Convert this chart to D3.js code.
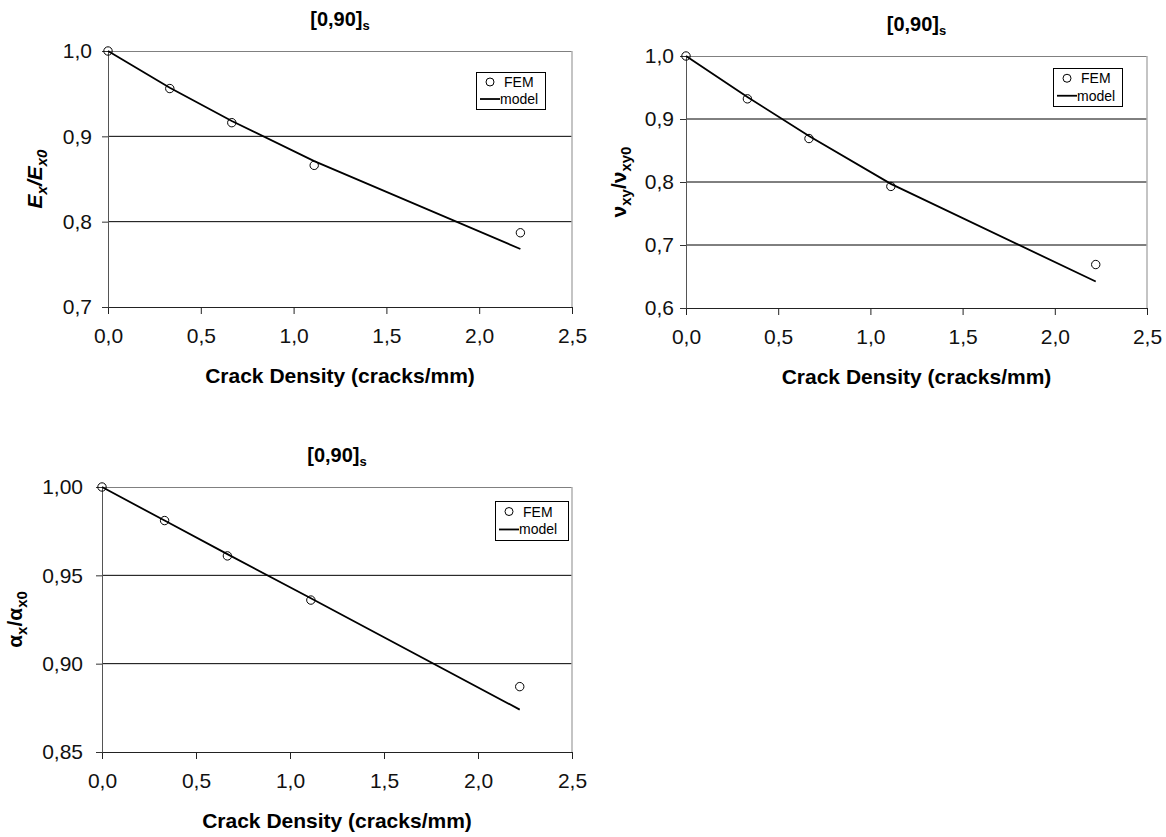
<!DOCTYPE html>
<html>
<head>
<meta charset="utf-8">
<script src="https://d3js.org/d3.v7.min.js"></script>
<style>
  body { margin: 0; background: #fff; }
  svg { font-family: "Liberation Sans", Arial, sans-serif; }
</style>
</head>
<body>
<script>
  // data
  var crackDensity = [0, 0.333, 0.667, 1.111, 2.222]
  var xTicks = [0, 0.5, 1.0, 1.5, 2.0, 2.5]

  var exFem = [1.0, 0.956, 0.916, 0.866, 0.787]
  var exModel = [1.0, 0.957, 0.918, 0.871, 0.768]
  var exTicks = [0.7, 0.8, 0.9, 1.0]

  var nuFem = [1.0, 0.932, 0.869, 0.793, 0.669]
  var nuModel = [1.0, 0.935, 0.873, 0.797, 0.642]
  var nuTicks = [0.6, 0.7, 0.8, 0.9, 1.0]

  var alphaFem = [1.0, 0.981, 0.961, 0.936, 0.887]
  var alphaModel = [1.0, 0.981, 0.962, 0.937, 0.874]
  var alphaTicks = [0.85, 0.90, 0.95, 1.00]

  var svg = d3.select("body").append("svg")
              .attr("width", 1166)
              .attr("height", 837)

  var comma = function(fmt) {
    var f = d3.format(fmt)
    return function(v) { return f(v).replace(".", ",") }
  }

  var panels = [
    { left: 108, top: 51, w: 464, h: 256, fem: exFem, model: exModel, ticks: exTicks,
      fmt: comma(".1f"), label: ["E", "x", "/E", "x0"], italic: true, labelX: 42,
      legend: [476, 72, 69, 37], tickGap: 16 },
    { left: 686, top: 56, w: 461, h: 252, fem: nuFem, model: nuModel, ticks: nuTicks,
      fmt: comma(".1f"), label: ["\u03bd", "xy", "/\u03bd", "xy0"], italic: false, labelX: 626,
      legend: [1053, 68, 69, 38], tickGap: 12 },
    { left: 102, top: 487, w: 470, h: 265, fem: alphaFem, model: alphaModel, ticks: alphaTicks,
      fmt: comma(".2f"), label: ["\u03b1", "x", "/\u03b1", "x0"], italic: false, labelX: 22,
      legend: [495, 501, 73, 39], tickGap: 19 }
  ]

  panels.forEach(function(p) {
    var g = svg.append("g").attr("transform", "translate(" + p.left + "," + p.top + ")")

    var x = d3.scaleLinear().domain([0, 2.5]).range([0, p.w])
    var y = d3.scaleLinear().domain([p.ticks[0], p.ticks[p.ticks.length - 1]]).range([p.h, 0])

    // gridlines
    g.selectAll(".grid")
     .data(p.ticks.slice(1, -1))
     .enter().append("line")
     .attr("x1", 0).attr("x2", p.w)
     .attr("y1", function(d) { return y(d) }).attr("y2", function(d) { return y(d) })
     .attr("stroke", "#000").attr("stroke-width", 1)

    // frame top and right
    g.append("line").attr("x1", 0).attr("x2", p.w).attr("y1", 0.5).attr("y2", 0.5)
     .attr("stroke", "#808080")
    g.append("line").attr("x1", p.w).attr("x2", p.w).attr("y1", 0).attr("y2", p.h)
     .attr("stroke", "#b0b0b0").attr("stroke-width", 1.5)

    // axes
    var xAxis = g.append("g").attr("transform", "translate(0," + p.h + ")")
                 .call(d3.axisBottom(x).tickValues(xTicks).tickFormat(comma(".1f"))
                         .tickSize(7).tickSizeOuter(0).tickPadding(14))
    xAxis.select(".domain").attr("stroke", "#222")
    xAxis.selectAll("line").attr("stroke", "#222")
    xAxis.selectAll("text").attr("font-size", 21).attr("fill", "#111")

    var yAxis = g.append("g")
                 .call(d3.axisLeft(y).tickValues(p.ticks).tickFormat(p.fmt)
                         .tickSize(6).tickSizeOuter(0).tickPadding(p.tickGap - 6))
    yAxis.select(".domain").attr("stroke", "#555")
    yAxis.selectAll("line").attr("stroke", "#333")
    yAxis.selectAll("text").attr("font-size", 21).attr("fill", "#111")

    // model line
    var line = d3.line()
                 .x(function(d, i) { return x(crackDensity[i]) })
                 .y(function(d) { return y(d) })
    g.append("path").datum(p.model)
     .attr("d", line).attr("fill", "none")
     .attr("stroke", "#000").attr("stroke-width", 1.8)

    // FEM points
    g.selectAll(".fem").data(p.fem).enter().append("circle")
     .attr("cx", function(d, i) { return x(crackDensity[i]) })
     .attr("cy", function(d) { return y(d) })
     .attr("r", 4.2).attr("fill", "none").attr("stroke", "#000").attr("stroke-width", 1)

    // title
    var t = svg.append("text")
               .attr("x", p.left + p.w / 2).attr("y", p.top - 25)
               .attr("text-anchor", "middle").attr("font-weight", "bold").attr("font-size", 20)
    t.append("tspan").text("[0,90]")
    t.append("tspan").attr("dy", 4).attr("font-size", 13).text("s")

    // x title
    svg.append("text")
       .attr("x", p.left + p.w / 2).attr("y", p.top + p.h + 76)
       .attr("text-anchor", "middle").attr("font-weight", "bold").attr("font-size", 21)
       .text("Crack Density (cracks/mm)")

    // y title
    var yl = svg.append("text")
                .attr("transform", "translate(" + p.labelX + "," + (p.top + p.h / 2) + ") rotate(-90)")
                .attr("text-anchor", "middle").attr("font-weight", "bold").attr("font-size", 21)
                .attr("font-style", p.italic ? "italic" : "normal")
    yl.append("tspan").text(p.label[0])
    yl.append("tspan").attr("dy", 5).attr("font-size", 15).text(p.label[1])
    yl.append("tspan").attr("dy", -5).text(p.label[2])
    yl.append("tspan").attr("dy", 5).attr("font-size", 15).text(p.label[3])

    // legend
    var L = p.legend
    var lg = svg.append("g").attr("transform", "translate(" + L[0] + "," + L[1] + ")")
    lg.append("rect").attr("x", 0.5).attr("y", 0.5).attr("width", L[2]).attr("height", L[3])
      .attr("fill", "#fff").attr("stroke", "#000").attr("stroke-width", 1)
    lg.append("circle").attr("cx", 14).attr("cy", L[3] * 0.27).attr("r", 4)
      .attr("fill", "none").attr("stroke", "#000")
    lg.append("text").attr("x", 28).attr("y", L[3] * 0.27 + 5).attr("font-size", 14).text("FEM")
    lg.append("line").attr("x1", 4).attr("x2", 24)
      .attr("y1", L[3] * 0.73).attr("y2", L[3] * 0.73)
      .attr("stroke", "#000").attr("stroke-width", 1.8)
    lg.append("text").attr("x", 24).attr("y", L[3] * 0.73 + 5).attr("font-size", 14).text("model")
  })
</script>
</body>
</html>
